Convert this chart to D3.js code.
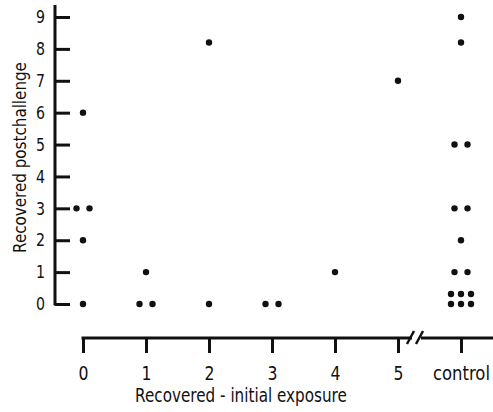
<!DOCTYPE html>
<html>
<head>
<meta charset="utf-8">
<script src="https://cdn.jsdelivr.net/npm/d3@7"></script>
<style>
  body { margin: 0; background: #fff; }
  svg text { font-family: "DejaVu Sans", "Liberation Sans", sans-serif; fill: #111; }
</style>
</head>
<body>
<div id="chart"></div>
<script>
// categories on the x axis and ticks on the y axis
var xLabels = ["0", "1", "2", "3", "4", "5", "control"];
var yTicks = [0, 1, 2, 3, 4, 5, 6, 7, 8, 9];

// recovered postchallenge values, one list per x category
var pts0 = [6, 3, 3, 2, 0];
var pts1 = [1, 0, 0];
var pts2 = [8.2, 0];
var pts3 = [0, 0];
var pts4 = [1];
var pts5 = [7];
var ptsControl = [9, 8.2, 5, 5, 3, 3, 2, 1, 1, 0, 0, 0, 0, 0, 0];

var width = 493;
var height = 412;

var svg = d3.select("#chart").append("svg")
    .attr("width", width)
    .attr("height", height);

var y = d3.scaleLinear().domain([0, 9]).range([304, 17]);
var x = d3.scalePoint().domain(xLabels).range([83, 461]);

var axisX0 = 55;   // where the y axis sits
var axisY0 = 338;  // where the x axis sits

// squeeze a text sideways (condensed look) around its own x anchor
function squeeze(sel, targetWidth){
  sel.each(function(d){
    var el = d3.select(this);
    var w = this.getComputedTextLength();
    var tw = typeof targetWidth === "function" ? targetWidth(d) : targetWidth;
    if (w <= 0) return;
    var k = tw / w;
    var ax = +el.attr("x") || 0;
    var prev = el.attr("transform") || "";
    el.attr("transform", prev + " translate(" + ax + ",0) scale(" + k + ",1) translate(" + (-ax) + ",0)");
  });
}

// y axis, ticks pointing right, labels on the left
var yAxis = svg.append("g")
    .attr("transform", "translate(" + axisX0 + ",0)")
    .call(d3.axisLeft(y).tickValues(yTicks).tickSize(-15).tickSizeOuter(0).tickPadding(10));
yAxis.select(".domain").remove();
yAxis.selectAll(".tick line").attr("stroke", "#111").attr("stroke-width", 3);
yAxis.selectAll(".tick text").style("font-size", "18px").call(squeeze, 9);
svg.append("line")
    .attr("x1", axisX0).attr("x2", axisX0)
    .attr("y1", 5).attr("y2", y(0) + 1.5)
    .attr("stroke", "#111").attr("stroke-width", 3);

// x axis
var xAxis = svg.append("g")
    .attr("transform", "translate(0," + axisY0 + ")")
    .call(d3.axisBottom(x).tickSize(15).tickSizeOuter(0).tickPadding(13));
xAxis.select(".domain").remove();
xAxis.selectAll(".tick line").attr("stroke", "#111").attr("stroke-width", 3);
xAxis.selectAll(".tick text")
    .style("font-size", "20px")
    .call(squeeze, function(d){ return d === "control" ? 57 : 10; });

// x axis line with a break between 5 and control
svg.append("line")
    .attr("x1", x("0") - 1.5).attr("x2", 412)
    .attr("y1", axisY0).attr("y2", axisY0)
    .attr("stroke", "#111").attr("stroke-width", 3);
svg.append("line")
    .attr("x1", 421).attr("x2", width)
    .attr("y1", axisY0).attr("y2", axisY0)
    .attr("stroke", "#111").attr("stroke-width", 3);
svg.append("line")
    .attr("x1", 407).attr("y1", 344).attr("x2", 414).attr("y2", 331)
    .attr("stroke", "#111").attr("stroke-width", 2.5);
svg.append("line")
    .attr("x1", 416).attr("y1", 344).attr("x2", 423).attr("y2", 331)
    .attr("stroke", "#111").attr("stroke-width", 2.5);

// axis titles
svg.append("text")
    .attr("transform", "translate(26,157.5) rotate(-90)")
    .attr("text-anchor", "middle")
    .style("font-size", "17px")
    .text("Recovered  postchallenge")
    .call(squeeze, 191);

svg.append("text")
    .attr("x", 241).attr("y", 402)
    .attr("text-anchor", "middle")
    .style("font-size", "20px")
    .text("Recovered - initial  exposure")
    .call(squeeze, 212);

// place dots, spreading the ones that share a value
function layoutGroup(label, values){
  var out = [];
  var counts = d3.rollup(values, function(v){ return v.length; }, function(d){ return d; });
  counts.forEach(function(n, val){
    for (var i = 0; i < n; i++){
      var dx, dy;
      if (n <= 2){
        dx = (i - (n - 1) / 2) * 13;
        dy = 0;
      } else {
        dx = (i % 3 - 1) * 10;
        dy = -Math.floor(i / 3) * 10;
      }
      out.push({group: label, value: val, dx: dx, dy: dy});
    }
  });
  return out;
}

var points = [].concat(
  layoutGroup("0", pts0),
  layoutGroup("1", pts1),
  layoutGroup("2", pts2),
  layoutGroup("3", pts3),
  layoutGroup("4", pts4),
  layoutGroup("5", pts5),
  layoutGroup("control", ptsControl)
);

svg.selectAll("circle.pt")
    .data(points)
    .enter()
    .append("circle")
    .attr("class", "pt")
    .attr("cx", function(d){ return x(d.group) + d.dx; })
    .attr("cy", function(d){ return y(d.value) + d.dy; })
    .attr("r", 3.2)
    .style("fill", "#111");
</script>
</body>
</html>
